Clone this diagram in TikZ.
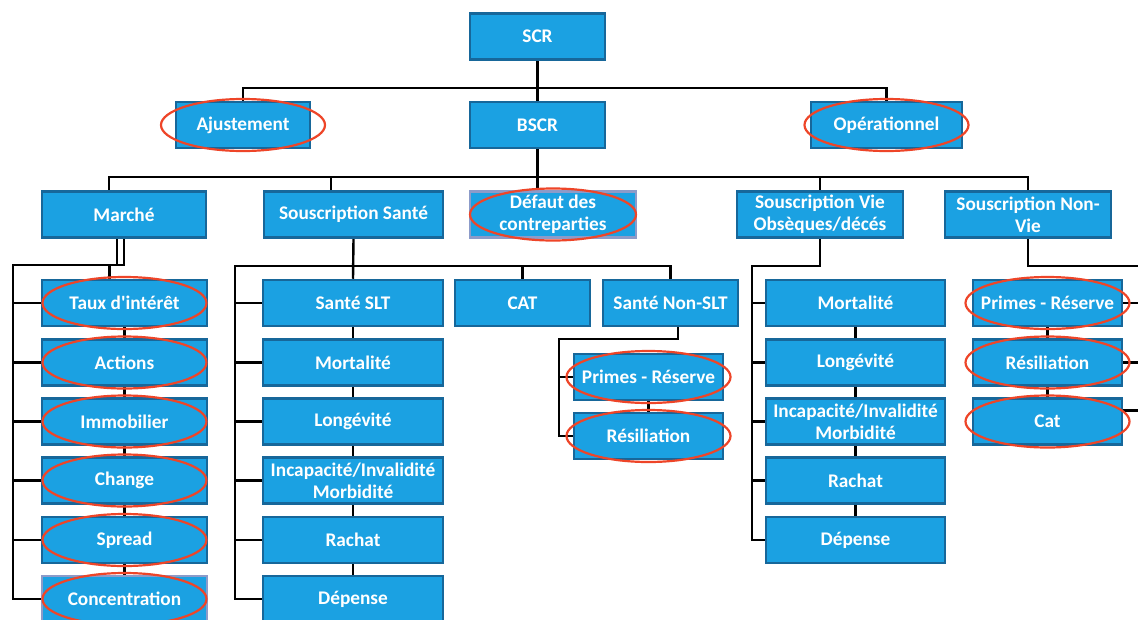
\documentclass[tikz,border=0pt]{standalone}
\usepackage{fontspec}
\setmainfont{Carlito}[BoldFont={Carlito Bold}]
\usetikzlibrary{calc}
\definecolor{boxfill}{HTML}{1BA1E2}
\definecolor{boxedge}{HTML}{17679A}
\definecolor{paleedge}{HTML}{8C9BC9}
\definecolor{ringred}{HTML}{EE4528}
\pgfdeclarelayer{bg}
\pgfsetlayers{bg,main}
\begin{document}
\begin{tikzpicture}[x=1pt,y=-1pt,
  riskbox/.style={draw=boxedge, fill=boxfill, line width=2.5pt, text=white,
    font=\fontsize{19.3}{22}\selectfont\bfseries, align=center, inner sep=0pt,
    minimum height=46pt},
  pale/.style={draw=paleedge},
  link/.style={line width=2.4pt, black},
  ring/.style={draw=ringred, line width=2.2pt}]
\useasboundingbox (0,0) rectangle (1138,619);

% top levels
\node[riskbox, minimum width=135pt] (scr) at (537.5,36.5) {SCR};
\node[riskbox, minimum width=134pt] (ajust) at (243,125) {Ajustement};
\node[riskbox, minimum width=135pt] (bscr) at (537.5,125) {BSCR};
\node[riskbox, minimum width=151pt] (oper) at (886.5,125) {Opérationnel};

\node[riskbox, minimum width=164pt] (marche) at (124,214.5) {Marché};
\node[riskbox, minimum width=179pt] (ssante) at (353.5,214.5) {Souscription Santé};
\node[riskbox, pale, minimum width=166pt] (defaut) at (553,214.5) {Défaut des\\contreparties};
\node[riskbox, minimum width=166pt] (svie) at (820,214.5) {Souscription Vie\\Obsèques/décés};
\node[riskbox, minimum width=166pt] (snv) at (1028,214.5) {Souscription Non-\\Vie};

% market sub-modules
\begin{scope}[every node/.style={riskbox, minimum width=165pt}]
\node (taux) at (124.5,303) {Taux d\textquotesingle intérêt};
\node (actions) at (124.5,362.5) {Actions};
\node (immo) at (124.5,421.5) {Immobilier};
\node (change) at (124.5,480.5) {Change};
\node (spread) at (124.5,540) {Spread};
\node[pale] (conc) at (124.5,599) {Concentration};
\end{scope}

% health sub-modules
\begin{scope}[every node/.style={riskbox, minimum width=180pt}]
\node (slt) at (353,303) {Santé SLT};
\node (smort) at (353,362.5) {Mortalité};
\node (slong) at (353,421.5) {Longévité};
\node (sinc) at (353,480.5) {Incapacité/Invalidité\\Morbidité};
\node (srach) at (353,540) {Rachat};
\node (sdep) at (353,599) {Dépense};
\end{scope}
\node[riskbox, minimum width=135pt] (cat) at (522.5,303) {CAT};
\node[riskbox, minimum width=135pt] (snslt) at (670.5,303) {Santé Non-SLT};
\node[riskbox, minimum width=149pt] (hprim) at (648.5,377) {Primes - Réserve};
\node[riskbox, minimum width=149pt] (hres) at (648.5,436) {Résiliation};

% life sub-modules
\begin{scope}[every node/.style={riskbox, minimum width=179pt}]
\node (vmort) at (855.5,303) {Mortalité};
\node (vlong) at (855.5,362.5) {Longévité};
\node (vinc) at (855.5,421.5) {Incapacité/Invalidité\\Morbidité};
\node (vrach) at (855.5,480.5) {Rachat};
\node (vdep) at (855.5,540) {Dépense};
\end{scope}

% non-life sub-modules
\begin{scope}[every node/.style={riskbox, minimum width=149pt}]
\node (nprim) at (1047.5,303) {Primes - Réserve};
\node (nres) at (1047.5,362.5) {Résiliation};
\node (ncat) at (1047.5,421.5) {Cat};
\end{scope}

% bus points
\coordinate (topbus) at (537.5,88);
\coordinate (midbus) at (537.5,177);
\coordinate (mk) at (13,265);
\coordinate (sk) at (235,266);
\coordinate (hk) at (559,339);
\coordinate (vk) at (752,266);
\coordinate (rk) at (1150,266);

\begin{pgfonlayer}{bg}
\fill[white] (0,0) rectangle (1138,619);
% SCR -> BSCR, Ajustement, Opérationnel
\draw[link] (scr.south) -- (bscr.north);
\draw[link] (ajust.north) |- (topbus) -| (oper.north);
% BSCR -> modules
\draw[link] (bscr.south) -- (bscr.south |- defaut.north);
\draw[link] ([xshift=-15pt]marche.north) |- (midbus) -| (snv.north);
\draw[link] ([xshift=-22.5pt]ssante.north) -- ([xshift=-22.5pt]ssante.north |- midbus);
\draw[link] (svie.north) -- (svie.north |- midbus);
% market
\draw[link] ([xshift=-7pt]marche.south) -- ([xshift=-7pt]marche.south |- mk);
\draw[link] (marche.south) |- (mk) |- (conc.west);
\draw[link] ([xshift=-15pt]taux.north) -- ([xshift=-15pt]taux.north |- mk);
\foreach \n in {taux,actions,immo,change,spread}
  \draw[link] (mk |- \n.west) -- (\n.west);
\draw[link] (taux.south) -- (actions.north);
\draw[link] (actions.south) -- (immo.north);
\draw[link] (immo.south) -- (change.north);
\draw[link] (change.south) -- (spread.north);
\draw[link] (spread.south) -- (conc.north);
% health
\draw[link] (ssante.south) -- (slt.north);
\draw[link] (snslt.north) |- (sk) |- (sdep.west);
\draw[link] (cat.north) -- (cat.north |- sk);
\foreach \n in {slt,smort,slong,sinc,srach}
  \draw[link] (sk |- \n.west) -- (\n.west);
\draw[link] (slt.south) -- (smort.north);
\draw[link] (smort.south) -- (slong.north);
\draw[link] (slong.south) -- (sinc.north);
\draw[link] (sinc.south) -- (srach.north);
\draw[link] (srach.south) -- (sdep.north);
\draw[link] ([xshift=7.5pt]snslt.south) |- (hk) |- (hres.west);
\draw[link] (hk |- hprim.west) -- (hprim.west);
\draw[link] (hprim.south) -- (hres.north);
% life
\draw[link] (svie.south) |- (vk) |- (vdep.west);
\foreach \n in {vmort,vlong,vinc,vrach}
  \draw[link] (vk |- \n.west) -- (\n.west);
\draw[link] (vmort.south) -- (vlong.north);
\draw[link] (vlong.south) -- (vinc.north);
\draw[link] (vinc.south) -- (vrach.north);
\draw[link] (vrach.south) -- (vdep.north);
% non-life
\draw[link] (snv.south) |- (rk);
\draw[link] (nprim.east) -- (nprim.east -| rk);
\draw[link] (nres.east) -- (nres.east -| rk);
\draw[link] ([yshift=11pt]ncat.east) -- ([yshift=11pt]ncat.east -| rk);
\draw[link] (nprim.south) -- (nres.north);
\draw[link] (nres.south) -- (ncat.north);
\end{pgfonlayer}

% highlighted modules
\foreach \n in {ajust,oper,taux,actions,immo,change,spread,conc,hprim,hres,nprim,nres,ncat}
  \draw[ring] (\n.center) ellipse [x radius=82pt, y radius=26pt];
\draw[ring] (defaut.center) ellipse [x radius=83pt, y radius=26pt];
\end{tikzpicture}
\end{document}
